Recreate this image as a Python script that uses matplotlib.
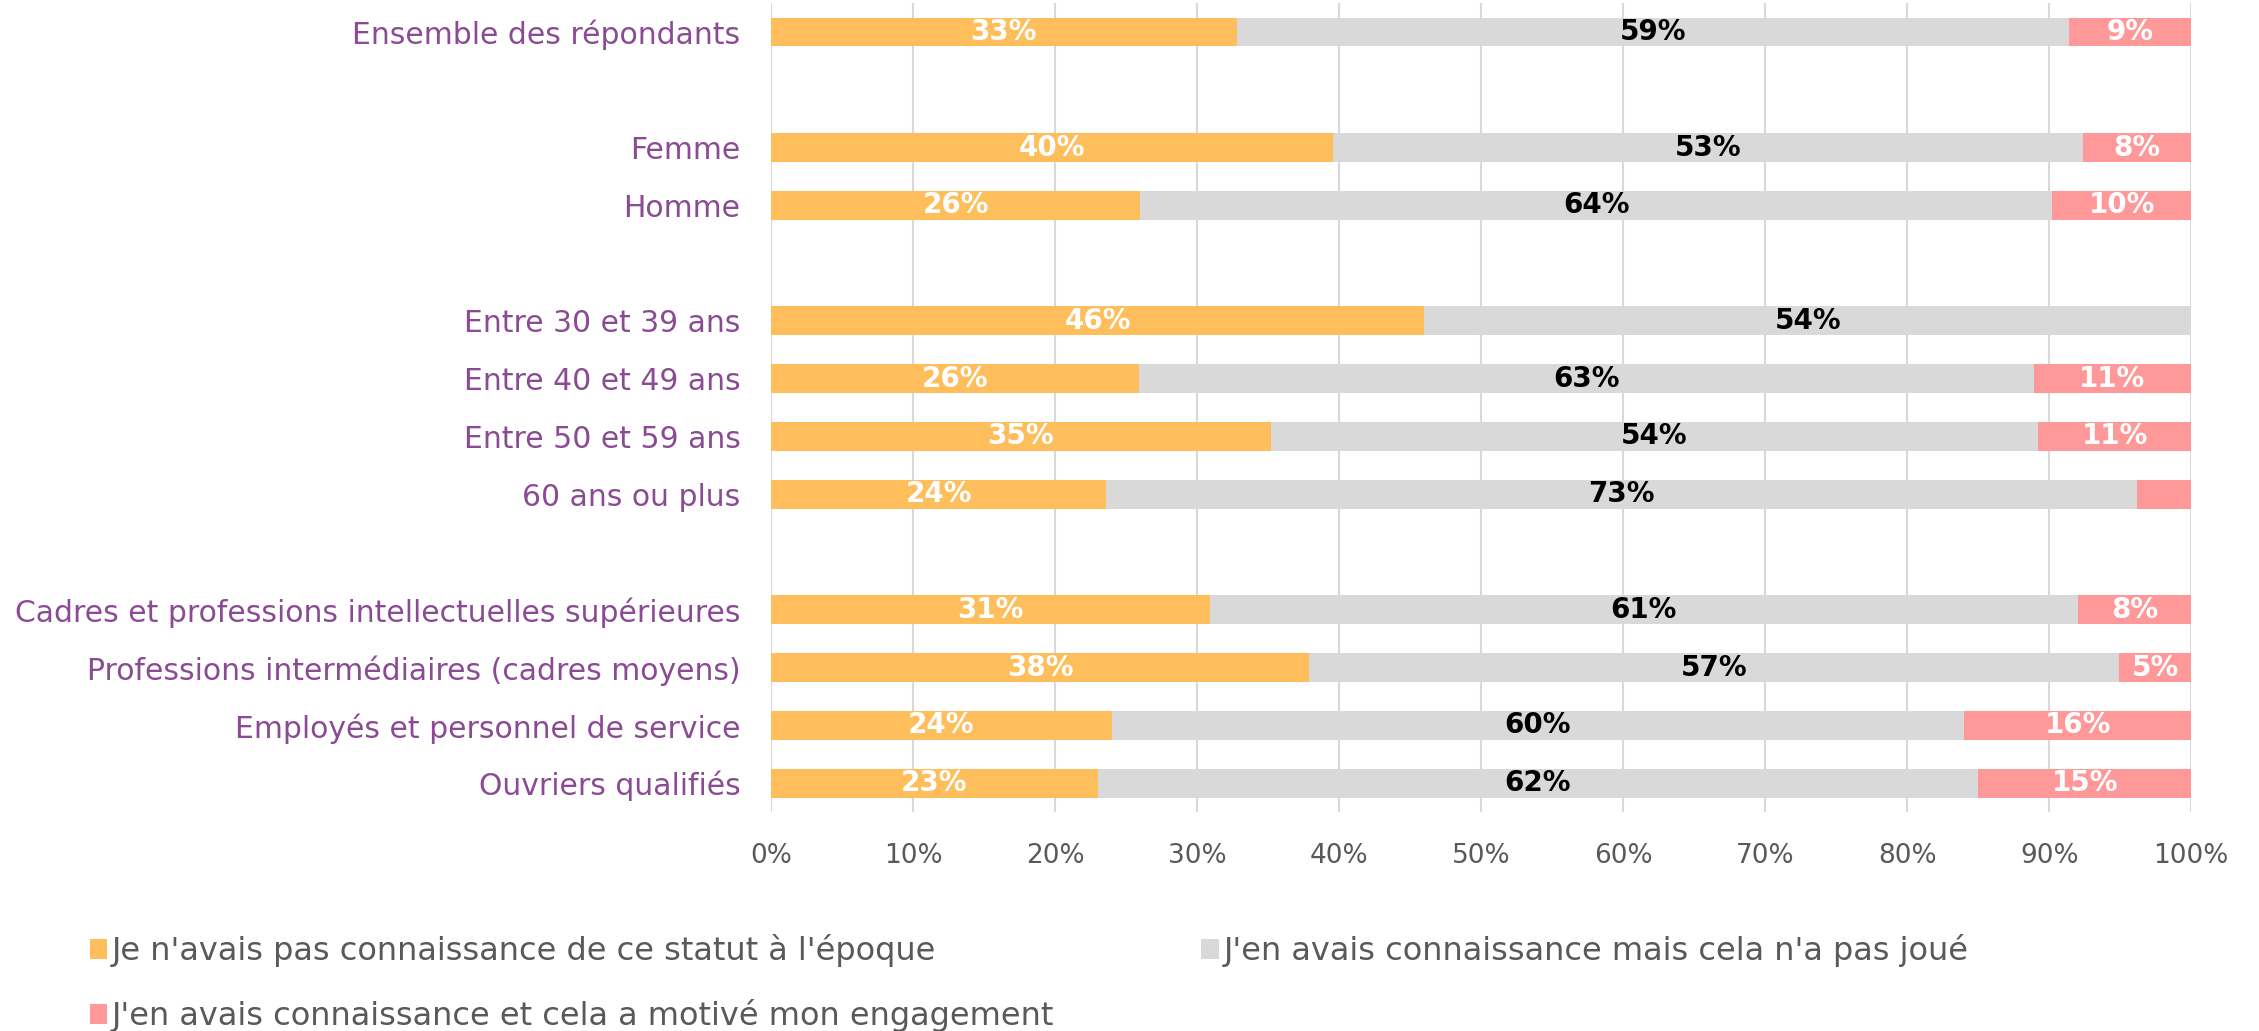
#coding:utf-8
import matplotlib
matplotlib.use("Agg")
import matplotlib.pyplot as plt
import numpy as np

# categories, top to bottom (None = empty row between groups)
categories = ["Ensemble des répondants", None,
              "Femme", "Homme", None,
              "Entre 30 et 39 ans", "Entre 40 et 49 ans", "Entre 50 et 59 ans", "60 ans ou plus", None,
              "Cadres et professions intellectuelles supérieures",
              "Professions intermédiaires (cadres moyens)",
              "Employés et personnel de service",
              "Ouvriers qualifiés"]

pas_connaissance = [32.8, None, 39.6, 26.0, None, 46.0, 25.9, 35.2, 23.6, None, 30.9, 37.9, 24.0, 23.0]
pas_joue = [58.6, None, 52.8, 64.2, None, 54.0, 63.0, 54.0, 72.6, None, 61.1, 57.0, 60.0, 62.0]
motive = [8.6, None, 7.6, 9.8, None, 0.0, 11.1, 10.8, 3.8, None, 8.0, 5.1, 16.0, 15.0]

series_names = ["Je n'avais pas connaissance de ce statut à l'époque",
                "J'en avais connaissance mais cela n'a pas joué",
                "J'en avais connaissance et cela a motivé mon engagement"]
colors = ["#FFBE5C", "#D9D9D9", "#FF9999"]
text_colors = ["white", "black", "white"]

plt.rcParams['font.family'] = ['DejaVu Sans']

fig = plt.figure(figsize=(22.59, 10.31), dpi=100)
ax = fig.add_axes([0.3413, 0.2124, 0.6287, 0.7846])

rows = [i for i, c in enumerate(categories) if c is not None]
left = np.zeros(len(rows))
handles = []
for s, vals in enumerate([pas_connaissance, pas_joue, motive]):
    v = np.array([vals[i] for i in rows], dtype=float)
    bars = ax.barh(rows, v, left=left, height=0.5, color=colors[s], label=series_names[s], zorder=3)
    handles.append(bars)
    for r, l, w in zip(rows, left, v):
        if w >= 4.5:
            ax.text(l + w / 2, r, "%d%%" % round(w), ha="center", va="center",
                    color=text_colors[s], fontsize=20, fontweight="bold", zorder=4)
    left += v

ax.set_xlim(0, 100)
ax.set_ylim(13.5, -0.5)
ax.set_xticks(np.arange(0, 101, 10))
ax.set_xticklabels(["%d%%" % t for t in range(0, 101, 10)], color="#595959", fontsize=19)
ax.set_yticks(rows)
ax.set_yticklabels([categories[i] for i in rows], color="#8B4A94", fontsize=21.5)
ax.tick_params(axis="x", length=0, pad=22)
ax.tick_params(axis="y", length=0, pad=22)
ax.grid(axis="x", color="#D9D9D9", linewidth=1.5, zorder=0)
for sp in ax.spines.values():
    sp.set_visible(False)

# legend fills column-wise, so order handles to read row by row
order = [0, 2, 1]
fig.legend(handles=[handles[i] for i in order], loc="upper left", bbox_to_anchor=(0.027, 0.122), ncol=2,
           frameon=False, fontsize=23, handlelength=0.55, handleheight=0.6,
           handletextpad=0.15, columnspacing=4.6, labelspacing=1.0, labelcolor="#595959")

fig.savefig("out.png", dpi=100)
